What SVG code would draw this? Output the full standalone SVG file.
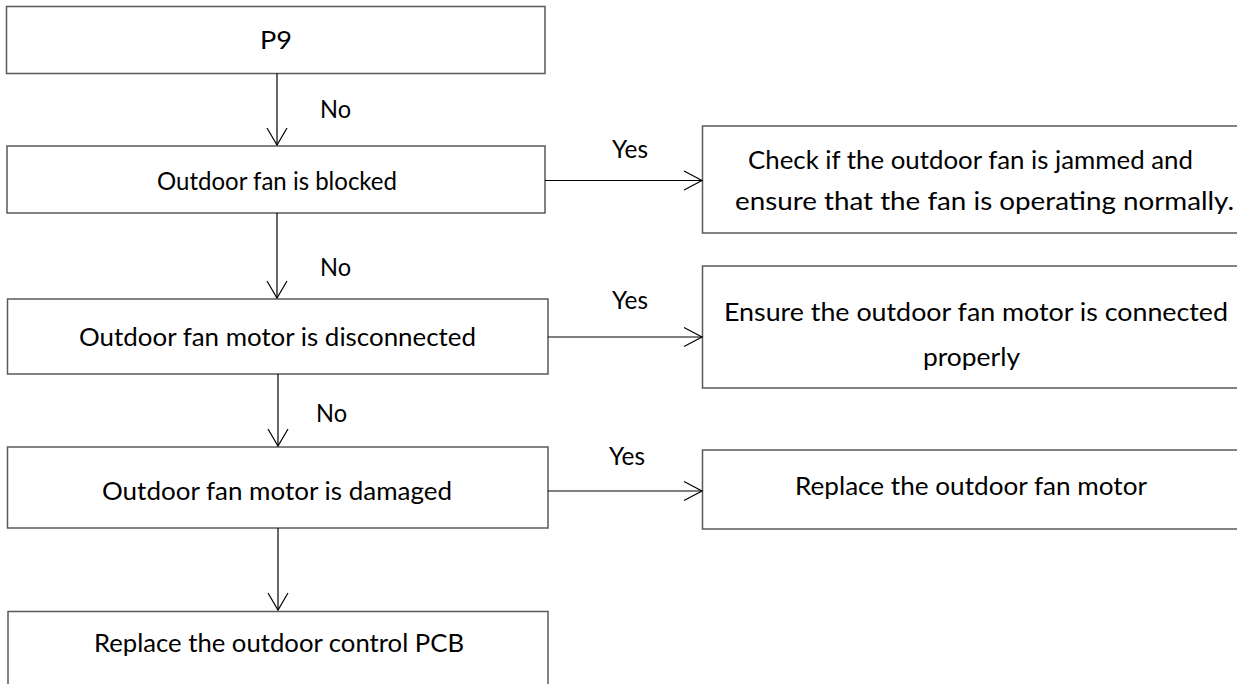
<svg xmlns="http://www.w3.org/2000/svg" width="1237" height="684" viewBox="0 0 1237 684">
  <style>
    .box { fill: #ffffff; stroke: #595959; stroke-width: 1.5; }
    .lbl { font-family: Lato, "Open Sans", "Liberation Sans", sans-serif; font-size: 25px; fill: #000000; }
    .mid { text-anchor: middle; }
    .edge { stroke: #000000; stroke-width: 1.2; fill: none; }
    .head { stroke: #000000; stroke-width: 1.2; fill: none; }
  </style>
  <rect width="1237" height="684" fill="#ffffff"/>

  <!-- decision chain, left column -->
  <g id="node-p9">
    <rect class="box" x="6.5" y="6.5" width="538.5" height="67"/>
    <text class="lbl mid" x="276" y="49" textLength="32" lengthAdjust="spacingAndGlyphs">P9</text>
  </g>
  <g id="node-blocked">
    <rect class="box" x="7" y="146" width="538" height="67"/>
    <text class="lbl mid" x="277" y="190" textLength="240" lengthAdjust="spacingAndGlyphs">Outdoor fan is blocked</text>
  </g>
  <g id="node-disconnected">
    <rect class="box" x="7.5" y="299" width="540.5" height="75"/>
    <text class="lbl mid" x="277.5" y="346" textLength="397" lengthAdjust="spacingAndGlyphs">Outdoor fan motor is disconnected</text>
  </g>
  <g id="node-damaged">
    <rect class="box" x="7.5" y="447" width="540.5" height="81"/>
    <text class="lbl mid" x="277" y="500" textLength="350" lengthAdjust="spacingAndGlyphs">Outdoor fan motor is damaged</text>
  </g>
  <g id="node-pcb">
    <rect class="box" x="8" y="611.5" width="540" height="90"/>
    <text class="lbl mid" x="279" y="652" textLength="370" lengthAdjust="spacingAndGlyphs">Replace the outdoor control PCB</text>
  </g>

  <!-- remedies, right column -->
  <g id="node-jammed">
    <rect class="box" x="702.5" y="126" width="545" height="107"/>
    <text class="lbl mid" x="970.5" y="169" textLength="445" lengthAdjust="spacingAndGlyphs">Check if the outdoor fan is jammed and</text>
    <text class="lbl mid" x="984.5" y="210" textLength="499" lengthAdjust="spacingAndGlyphs">ensure that the fan is operating normally.</text>
  </g>
  <g id="node-connect">
    <rect class="box" x="702.5" y="266" width="545" height="122"/>
    <text class="lbl mid" x="976" y="321" textLength="504" lengthAdjust="spacingAndGlyphs">Ensure the outdoor fan motor is connected</text>
    <text class="lbl mid" x="971.5" y="366" textLength="97" lengthAdjust="spacingAndGlyphs">properly</text>
  </g>
  <g id="node-motor">
    <rect class="box" x="702.5" y="450" width="545" height="79"/>
    <text class="lbl mid" x="971" y="495" textLength="352" lengthAdjust="spacingAndGlyphs">Replace the outdoor fan motor</text>
  </g>

  <!-- connectors with open V heads -->
  <g id="connectors">
    <path class="edge" d="M277 73.5 V145"/>
    <path class="head" d="M267 128 L277 145 L287 128"/>
    <path class="edge" d="M277 213 V298"/>
    <path class="head" d="M267 281 L277 298 L287 281"/>
    <path class="edge" d="M278 374 V446"/>
    <path class="head" d="M268 429 L278 446 L288 429"/>
    <path class="edge" d="M278 528 V610"/>
    <path class="head" d="M268 593 L278 610 L288 593"/>

    <path class="edge" d="M545 180.5 H702"/>
    <path class="head" d="M684 171 L702 180.5 L684 190"/>
    <path class="edge" d="M548 337 H702"/>
    <path class="head" d="M684 327.5 L702 337 L684 346.5"/>
    <path class="edge" d="M548 491 H702"/>
    <path class="head" d="M684 481.5 L702 491 L684 500.5"/>

    <text class="lbl" x="320" y="118" textLength="31" lengthAdjust="spacingAndGlyphs">No</text>
    <text class="lbl" x="320" y="276" textLength="31" lengthAdjust="spacingAndGlyphs">No</text>
    <text class="lbl" x="316" y="422" textLength="31" lengthAdjust="spacingAndGlyphs">No</text>
    <text class="lbl" x="612" y="158" textLength="36" lengthAdjust="spacingAndGlyphs">Yes</text>
    <text class="lbl" x="612" y="309" textLength="36" lengthAdjust="spacingAndGlyphs">Yes</text>
    <text class="lbl" x="609" y="465" textLength="36" lengthAdjust="spacingAndGlyphs">Yes</text>
  </g>
</svg>
